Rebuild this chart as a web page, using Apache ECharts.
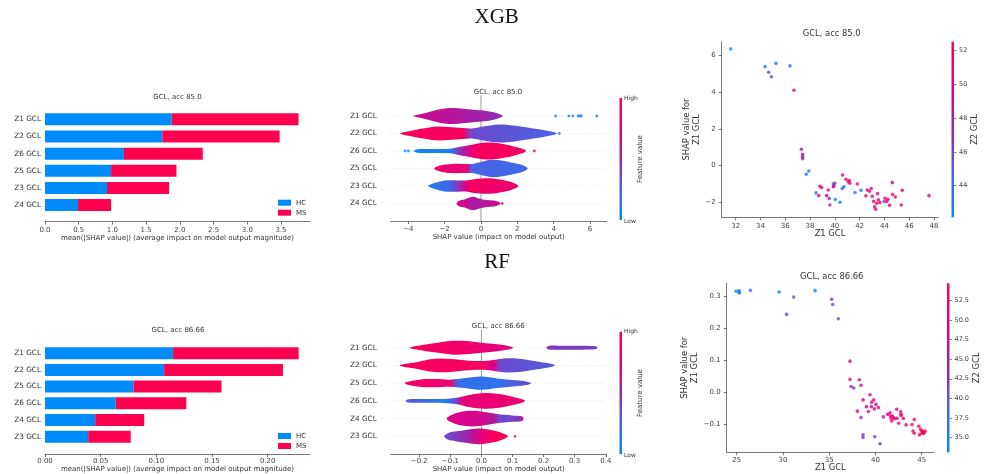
<!DOCTYPE html>
<html><head><meta charset="utf-8">
<script src="https://cdn.jsdelivr.net/npm/echarts@6/dist/echarts.min.js"></script>
<style>html,body{margin:0;padding:0;background:#fff}#c{width:984px;height:474px}</style>
</head><body><div id="c"></div>
<script>
// ================= DATA =================
// --- XGB: mean |SHAP| bar chart ---
const xgbBarFeatures = ['Z1 GCL', 'Z2 GCL', 'Z6 GCL', 'Z5 GCL', 'Z3 GCL', 'Z4 GCL'];
const xgbBarHC = [1.88, 1.74, 1.17, 0.98, 0.92, 0.49];
const xgbBarMS = [1.88, 1.74, 1.17, 0.97, 0.92, 0.49];
const xgbBarTicks = [0, 0.5, 1, 1.5, 2, 2.5, 3, 3.5];

// --- RF: mean |SHAP| bar chart ---
const rfBarFeatures = ['Z1 GCL', 'Z2 GCL', 'Z5 GCL', 'Z6 GCL', 'Z4 GCL', 'Z3 GCL'];
const rfBarHC = [0.115, 0.107, 0.0795, 0.0636, 0.0451, 0.0388];
const rfBarMS = [0.1128, 0.1067, 0.079, 0.0633, 0.044, 0.0382];
const rfBarTicks = [0, 0.05, 0.1, 0.15, 0.2];

// --- XGB violin summary: shape = [SHAP value, relative density], tone = [SHAP value, feature value 0..1] ---
const xgbViolinFeatures = ['Z1 GCL', 'Z2 GCL', 'Z6 GCL', 'Z5 GCL', 'Z3 GCL', 'Z4 GCL'];
const xgbViolinTicks = [-4, -2, 0, 2, 4, 6];
const xgbZ1Shape = [[-3.72,0],[-3.3,0.22],[-2.9,0.42],[-2.4,0.68],[-1.9,0.86],[-1.5,0.88],[-1.0,0.8],[-0.4,0.68],[0.2,0.58],[0.7,0.4],[1.0,0.22],[1.2,0]];
const xgbZ1Tone = [[-3.72,0.7],[-1.5,0.6],[0,0.52],[1.2,0.45]];
const xgbZ2Shape = [[-4.46,0],[-3.9,0.28],[-3.2,0.55],[-2.5,0.75],[-1.8,0.72],[-1.0,0.6],[-0.5,0.55],[0.2,0.8],[1.0,1.0],[1.8,0.88],[2.7,0.6],[3.5,0.35],[4.17,0]];
const xgbZ2Tone = [[-4.46,0.95],[-1.0,0.94],[-0.5,0.35],[4.17,0.25]];
const xgbZ6Shape = [[-3.69,0],[-3.5,0.2],[-2.5,0.22],[-1.7,0.25],[-1.3,0.4],[-0.6,0.65],[0.1,0.9],[0.7,0.92],[1.4,0.7],[2.0,0.4],[2.48,0]];
const xgbZ6Tone = [[-3.69,0.05],[-1.7,0.08],[-1.2,0.45],[-0.5,0.82],[0,0.95],[2.48,0.92]];
const xgbZ5Shape = [[-2.57,0],[-2.2,0.35],[-1.6,0.5],[-1.0,0.5],[-0.5,0.5],[0.0,0.72],[0.6,0.95],[1.2,0.85],[1.8,0.6],[2.3,0.35],[2.57,0]];
const xgbZ5Tone = [[-2.57,0.85],[-0.75,0.82],[-0.55,0.25],[2.57,0.2]];
const xgbZ3Shape = [[-2.9,0],[-2.5,0.35],[-2.0,0.6],[-1.5,0.62],[-0.9,0.6],[-0.2,0.8],[0.5,0.85],[1.2,0.65],[1.7,0.4],[2.05,0]];
const xgbZ3Tone = [[-2.9,0.12],[-1.8,0.18],[-1.3,0.4],[-0.9,0.7],[-0.6,0.92],[2.05,0.85]];
const xgbZ4Shape = [[-1.34,0],[-1.2,0.3],[-0.9,0.45],[-0.6,0.68],[-0.35,0.72],[-0.1,0.55],[0.3,0.38],[0.7,0.32],[0.95,0.2],[1.07,0]];
const xgbZ4Tone = [[-1.34,0.8],[-0.4,0.55],[0.5,0.62],[1.07,0.7]];
// outlier dots: [SHAP value, row, feature value]
const xgbViolinDots = [[4.11,0,0.12],[4.84,0,0.1],[5.05,0,0.12],[5.35,0,0.1],[5.45,0,0.15],[5.52,0,0.1],[6.37,0,0.12],[4.31,1,0.2],[-4.18,2,0.05],[-4.0,2,0.05],[2.94,2,0.95],[1.17,5,0.95]];

// --- RF violin summary ---
const rfViolinFeatures = ['Z1 GCL', 'Z2 GCL', 'Z5 GCL', 'Z6 GCL', 'Z4 GCL', 'Z3 GCL'];
const rfViolinTicks = [-0.2, -0.1, 0, 0.1, 0.2, 0.3, 0.4];
const rfZ1Shape = [[-0.231,0],[-0.19,0.3],[-0.14,0.55],[-0.09,0.75],[-0.05,0.72],[0.0,0.55],[0.05,0.38],[0.085,0.2],[0.102,0]];
const rfZ1Tone = [[-0.231,0.95],[-0.05,0.88],[0.102,0.75]];
const rfZ1bShape = [[0.209,0],[0.216,0.2],[0.25,0.22],[0.3,0.22],[0.35,0.2],[0.368,0.15],[0.373,0]];
const rfZ1bTone = [[0.209,0.42],[0.373,0.38]];
const rfZ2Shape = [[-0.263,0],[-0.21,0.35],[-0.15,0.72],[-0.1,0.7],[-0.04,0.52],[0.02,0.5],[0.07,0.75],[0.12,0.72],[0.18,0.42],[0.236,0]];
const rfZ2Tone = [[-0.263,0.95],[0.0,0.92],[0.04,0.75],[0.06,0.35],[0.236,0.28]];
const rfZ5Shape = [[-0.247,0],[-0.2,0.38],[-0.15,0.45],[-0.1,0.38],[-0.05,0.55],[0.0,0.72],[0.05,0.52],[0.1,0.35],[0.14,0.22],[0.16,0]];
const rfZ5Tone = [[-0.247,0.92],[-0.1,0.85],[-0.075,0.18],[0.05,0.15],[0.16,0.35]];
const rfZ6Shape = [[-0.244,0],[-0.235,0.18],[-0.18,0.2],[-0.12,0.22],[-0.08,0.35],[-0.04,0.65],[0.01,0.85],[0.05,0.78],[0.1,0.45],[0.14,0]];
const rfZ6Tone = [[-0.244,0.3],[-0.15,0.15],[-0.11,0.1],[-0.08,0.4],[-0.06,0.82],[0.14,0.85]];
const rfZ4Shape = [[-0.112,0],[-0.1,0.35],[-0.07,0.7],[-0.03,0.85],[0.01,0.72],[0.05,0.5],[0.1,0.35],[0.13,0.25],[0.135,0]];
const rfZ4Tone = [[-0.112,0.75],[0.0,0.7],[0.04,0.6],[0.06,0.35],[0.12,0.4],[0.135,0.8]];
const rfZ3Shape = [[-0.12,0],[-0.105,0.4],[-0.08,0.55],[-0.05,0.7],[-0.01,0.85],[0.03,0.7],[0.06,0.45],[0.085,0]];
const rfZ3Tone = [[-0.12,0.35],[-0.06,0.45],[-0.03,0.6],[0.0,0.8],[0.04,0.95],[0.085,0.95]];
const rfViolinDots = [[0.108,5,0.95]];

// --- XGB dependence plot: [Z1 GCL, SHAP value for Z1 GCL, Z2 GCL] ---
const xgbDependence = [
 [31.6,6.36,42.2],[34.37,5.40,43.3],[35.25,5.58,43.5],[34.66,5.09,45.8],[34.88,4.85,45.2],[36.38,5.44,44.0],
 [36.70,4.11,48.8],[37.30,0.89,47.6],[37.40,0.62,47.8],[37.40,0.49,47.4],[37.40,0.38,48.0],[37.90,-0.29,43.2],
 [37.70,-0.47,43.0],[38.48,-1.49,43.4],[38.70,-1.64,50.6],[38.80,-1.13,50.2],[38.94,-1.20,50.8],[39.34,-1.64,50.4],
 [39.47,-1.33,50.9],[39.55,-1.80,47.2],[39.60,-2.15,47.0],[39.88,-1.00,43.6],[39.93,-1.11,46.5],[39.88,-1.15,50.5],
 [39.99,-0.96,46.8],[40.04,-1.85,43.2],[40.42,-2.00,43.0],[40.63,-0.51,49.8],[40.60,-1.25,43.4],[40.74,-1.15,43.8],
 [40.90,-0.75,50.3],[41.09,-0.89,50.6],[41.17,-0.82,49.9],[41.22,-0.96,52.0],[41.63,-1.47,43.5],[41.81,-1.00,50.2],
 [42.11,-1.35,43.6],[42.51,-1.65,50.7],[42.62,-1.33,50.4],[42.78,-1.40,50.9],[42.94,-1.25,50.1],[43.02,-1.67,50.6],
 [43.13,-1.95,51.2],[43.21,-2.25,50.8],[43.29,-2.38,50.3],[43.37,-2.05,51.0],[43.45,-1.53,49.8],[43.51,-1.87,50.6],
 [43.64,-2.02,52.3],[43.97,-1.96,44.0],[44.05,-1.78,50.5],[44.18,-1.96,50.9],[44.29,-1.84,50.2],[44.42,-2.16,50.7],
 [44.64,-0.93,49.6],[44.66,-1.58,51.0],[44.88,-1.71,50.4],[45.36,-2.15,49.9],[45.44,-1.35,50.8],[47.60,-1.64,49.7]
];
const xgbDepXTicks = [32, 34, 36, 38, 40, 42, 44, 46, 48];
const xgbDepYTicks = [-2, 0, 2, 4, 6];
const xgbColorTicks = [44, 46, 48, 50, 52];
const xgbColorRange = [42.12, 52.53];

// --- RF dependence plot ---
const rfDependence = [
 [24.93,0.315,34.0],[25.25,0.3125,35.0],[25.25,0.317,34.5],[25.29,0.310,35.2],[26.48,0.318,35.5],[29.58,0.3125,35.3],
 [31.16,0.297,38.0],[30.40,0.243,41.5],[33.47,0.317,34.8],[35.27,0.290,44.5],[35.38,0.274,38.5],[35.99,0.229,38.2],
 [37.25,0.097,47.0],[37.25,0.040,47.5],[38.26,0.039,47.0],[37.36,0.018,43.0],[37.65,0.013,42.0],[38.44,0.022,46.5],
 [38.66,-0.024,48.0],[38.05,-0.059,47.5],[38.44,-0.079,42.5],[38.66,-0.133,42.0],[38.66,-0.141,41.8],[39.41,-0.008,48.5],
 [39.02,-0.045,48.8],[39.23,-0.060,48.3],[39.59,-0.031,49.0],[39.56,-0.045,48.6],[39.81,-0.024,49.2],[39.88,-0.052,48.9],
 [40.06,-0.038,49.5],[40.32,-0.048,49.3],[39.92,-0.139,42.5],[40.50,-0.161,42.0],[40.86,-0.077,48.0],[41.32,-0.069,49.8],
 [41.58,-0.064,50.5],[41.61,-0.074,50.2],[41.68,-0.081,51.0],[41.76,-0.090,50.6],[41.83,-0.074,50.9],[41.94,-0.079,51.2],
 [42.05,-0.083,51.5],[42.30,-0.053,50.8],[42.34,-0.081,51.6],[42.51,-0.097,51.3],[42.73,-0.061,51.0],[42.77,-0.069,51.4],
 [42.77,-0.073,51.8],[43.02,-0.082,51.5],[43.31,-0.102,52.0],[43.96,-0.101,52.3],[44.06,-0.121,52.5],[44.20,-0.085,51.8],
 [44.20,-0.128,52.8],[44.68,-0.106,53.0],[44.75,-0.133,53.3],[44.89,-0.116,53.5],[45.00,-0.121,53.8],[45.14,-0.123,54.0],
 [45.18,-0.129,54.3],[45.29,-0.126,54.5],[45.04,-0.128,54.0],[45.36,-0.121,54.6]
];
const rfDepXTicks = [25, 30, 35, 40, 45];
const rfDepYTicks = [-0.1, 0, 0.1, 0.2, 0.3];
const rfColorTicks = [35, 37.5, 40, 42.5, 45, 47.5, 50, 52.5];
const rfColorRange = [33.1, 54.7];

// ================= STYLE / HELPERS =================
const CMAP = ['#008bfb', '#4b63e3', '#9b24ad', '#e00086', '#ff0051'];
const FONT = 'DejaVu Sans';
const TXT = '#333';
const AX = '#555';
function hex(c) { return [parseInt(c.slice(1,3),16), parseInt(c.slice(3,5),16), parseInt(c.slice(5,7),16)]; }
function cmap(v) {
  v = Math.max(0, Math.min(1, v));
  const n = CMAP.length - 1, p = v * n, i = Math.min(n - 1, Math.floor(p)), f = p - i;
  const a = hex(CMAP[i]), b = hex(CMAP[i + 1]);
  return 'rgb(' + a.map((x, k) => Math.round(x + (b[k] - x) * f)).join(',') + ')';
}
function fmt(v, d) { return (v < -1e-9 ? '\u2212' : '') + Math.abs(v).toFixed(d); }

function xAxisValue(o) {
  return {
    type: 'value', gridIndex: o.grid, min: o.min, max: o.max, position: 'bottom', offset: o.offset || 0,
    axisLine: { show: true, onZero: false, lineStyle: { color: AX, width: 0.8 } },
    axisTick: { show: true, length: 3, customValues: o.ticks, lineStyle: { color: AX, width: 0.8 } },
    axisLabel: { customValues: o.ticks, formatter: v => fmt(v, o.dec), fontSize: o.fs || 7, color: '#444', fontFamily: FONT, margin: o.margin || 5 },
    splitLine: { show: false },
    name: o.name, nameLocation: 'middle', nameGap: o.nameGap,
    nameTextStyle: { fontSize: o.nfs || 7, color: TXT, fontFamily: FONT }
  };
}
function hiddenAxis(grid, min, max) { return { type: 'value', gridIndex: grid, min: min, max: max, show: false, axisLine: { onZero: false } }; }
function barYAxis(grid, data) {
  return { type: 'category', gridIndex: grid, data: data, inverse: true,
    axisLine: { show: false, onZero: false }, axisTick: { show: false },
    axisLabel: { fontSize: 7.3, color: TXT, margin: 4, fontFamily: FONT } };
}
function violinYAxis(grid, names, min) {
  return { type: 'value', gridIndex: grid, inverse: true, min: min, max: 6,
    axisLine: { show: false, onZero: false }, axisTick: { show: false }, splitLine: { show: false },
    axisLabel: { customValues: [0, 1, 2, 3, 4, 5], formatter: v => names[Math.round(v)] || '', margin: 14, fontSize: 7.3, color: TXT, fontFamily: FONT } };
}
function depYAxis(grid, min, max, ticks, dec, gap) {
  return { type: 'value', gridIndex: grid, min: min, max: max,
    axisLine: { show: true, onZero: false, lineStyle: { color: AX, width: 0.8 } },
    axisTick: { show: true, length: 3, customValues: ticks, lineStyle: { color: AX, width: 0.8 } },
    axisLabel: { customValues: ticks, formatter: v => fmt(v, dec), fontSize: 7, color: '#444', fontFamily: FONT, margin: 6 },
    splitLine: { show: false },
    name: 'SHAP value for\nZ1 GCL', nameLocation: 'middle', nameRotate: 90, nameGap: gap,
    nameTextStyle: { fontSize: 8.4, lineHeight: 10, color: TXT, fontFamily: FONT } };
}
function cbarYAxis(grid, range, ticks, dec, gap) {
  return { type: 'value', gridIndex: grid, min: range[0], max: range[1], position: 'right',
    axisLine: { show: false, onZero: false },
    axisTick: { show: true, length: 2.5, customValues: ticks, lineStyle: { color: AX, width: 0.7 } },
    axisLabel: { customValues: ticks, formatter: v => v.toFixed(dec), fontSize: 6.5, color: '#444', fontFamily: FONT, margin: 5 },
    splitLine: { show: false },
    name: 'Z2 GCL', nameLocation: 'middle', nameRotate: 90, nameGap: gap,
    nameTextStyle: { fontSize: 8.4, color: TXT, fontFamily: FONT } };
}

function makePieces(list) { return list.map(p => ({ row: p[0], shape: p[1], tone: p[2] })); }
const xgbPieces = makePieces([[0, xgbZ1Shape, xgbZ1Tone], [1, xgbZ2Shape, xgbZ2Tone], [2, xgbZ6Shape, xgbZ6Tone],
  [3, xgbZ5Shape, xgbZ5Tone], [4, xgbZ3Shape, xgbZ3Tone], [5, xgbZ4Shape, xgbZ4Tone]]);
const rfPieces = makePieces([[0, rfZ1Shape, rfZ1Tone], [0, rfZ1bShape, rfZ1bTone], [1, rfZ2Shape, rfZ2Tone],
  [2, rfZ5Shape, rfZ5Tone], [3, rfZ6Shape, rfZ6Tone], [4, rfZ4Shape, rfZ4Tone], [5, rfZ3Shape, rfZ3Tone]]);

function violinRender(pieces) {
  return function (params, api) {
    const pc = pieces[params.dataIndex];
    const row = pc.row;
    const c0 = api.coord([0, row]);
    const unit = Math.abs(api.coord([0, row + 1])[1] - c0[1]);
    const k = 0.52 * unit;
    const top = [], bot = [];
    pc.shape.forEach(s => {
      const p = api.coord([s[0], row]);
      top.push([p[0], p[1] - s[1] * k]);
      bot.push([p[0], p[1] + s[1] * k]);
    });
    const pts = top.concat(bot.slice(1, -1).reverse());
    const xa = api.coord([pc.shape[0][0], row])[0];
    const xb = api.coord([pc.shape[pc.shape.length - 1][0], row])[0];
    const stops = pc.tone.map(t => {
      const px = api.coord([t[0], row])[0];
      return { offset: Math.min(1, Math.max(0, (px - xa) / (xb - xa))), color: cmap(t[1]) };
    });
    return { type: 'polygon', shape: { points: pts, smooth: 0.35 },
      style: { fill: { type: 'linear', x: xa, y: 0, x2: xb, y2: 0, global: true, colorStops: stops } } };
  };
}
function guideRender(params, api) {
  const cs = params.coordSys;
  const y = api.coord([0, api.value(1)])[1];
  const ch = [{ type: 'line', shape: { x1: cs.x, y1: y, x2: cs.x + cs.width, y2: y },
    style: { stroke: '#d4d4d4', lineWidth: 0.6, lineDash: [1, 2] } }];
  if (params.dataIndex === 0) {
    const x0 = api.coord([0, 0])[0];
    ch.push({ type: 'line', shape: { x1: x0, y1: cs.y, x2: x0, y2: cs.y + cs.height }, style: { stroke: '#999', lineWidth: 1 } });
  }
  return { type: 'group', children: ch };
}
function cbarRender(params, api) {
  const p1 = api.coord([0, api.value(2)]);
  const p2 = api.coord([1, api.value(1)]);
  return { type: 'rect', shape: { x: p1[0], y: p1[1], width: p2[0] - p1[0], height: p2[1] - p1[1] },
    style: { fill: { type: 'linear', x: 0, y: 1, x2: 0, y2: 0,
      colorStops: CMAP.map((c, i) => ({ offset: i / (CMAP.length - 1), color: c })) } } };
}
const rows6 = [0, 1, 2, 3, 4, 5].map(r => [0, r]);

function text(x, y, s, size, extra) {
  return Object.assign({ type: 'text', x: x, y: y, silent: true,
    style: { text: s, fontSize: size, fontFamily: FONT, fill: TXT, align: 'center', verticalAlign: 'middle' } }, extra || {});
}
function sideText(x, y, s) {
  return { type: 'text', x: x, y: y, silent: true,
    style: { text: s, fontSize: 6, fontFamily: FONT, fill: TXT, align: 'left', verticalAlign: 'middle' } };
}
function bigTitle(x, y, s) {
  return { type: 'text', x: x, y: y, silent: true,
    style: { text: s, fontSize: 21, fontFamily: 'Liberation Serif', fill: '#111', align: 'center', verticalAlign: 'middle' } };
}

// ================= OPTION =================
const option = {
  backgroundColor: '#fff',
  animation: false,
  grid: [
    { left: 45, top: 110.8, width: 265, height: 102.8 },      // 0 xgb bar
    { left: 390.7, top: 95, width: 216, height: 126 },        // 1 xgb violin
    { left: 619.5, top: 98, width: 2.5, height: 122 },        // 2 xgb violin colorbar
    { left: 721.7, top: 41.7, width: 216.6, height: 175.6 },  // 3 xgb dependence
    { left: 951.5, top: 41.7, width: 2.5, height: 175.6 },    // 4 xgb colorbar
    { left: 45, top: 344.8, width: 265, height: 102 },        // 5 rf bar
    { left: 390.7, top: 330, width: 216, height: 125 },       // 6 rf violin
    { left: 619.5, top: 331.7, width: 2.5, height: 122.3 },   // 7 rf violin colorbar
    { left: 726.7, top: 283.3, width: 207.3, height: 169 },   // 8 rf dependence
    { left: 947, top: 283.3, width: 2.5, height: 169 }        // 9 rf colorbar
  ],
  xAxis: [
    xAxisValue({ grid: 0, min: 0, max: 3.93, ticks: xgbBarTicks, dec: 1, offset: 8, margin: 5, nameGap: 13,
      name: 'mean(|SHAP value|) (average impact on model output magnitude)' }),
    xAxisValue({ grid: 1, min: -4.97, max: 6.92, ticks: xgbViolinTicks, dec: 0, margin: 5, nameGap: 13,
      name: 'SHAP value (impact on model output)' }),
    hiddenAxis(2, 0, 1),
    xAxisValue({ grid: 3, min: 30.87, max: 48.35, ticks: xgbDepXTicks, dec: 0, margin: 5, nameGap: 13, nfs: 8.4, name: 'Z1 GCL' }),
    hiddenAxis(4, 0, 1),
    xAxisValue({ grid: 5, min: 0, max: 0.238, ticks: rfBarTicks, dec: 2, offset: 8.9, margin: 4, nameGap: 12,
      name: 'mean(|SHAP value|) (average impact on model output magnitude)' }),
    xAxisValue({ grid: 6, min: -0.292, max: 0.403, ticks: rfViolinTicks, dec: 1, margin: 4, nameGap: 11,
      name: 'SHAP value (impact on model output)' }),
    hiddenAxis(7, 0, 1),
    xAxisValue({ grid: 8, min: 23.92, max: 46.33, ticks: rfDepXTicks, dec: 0, margin: 4, nameGap: 11, nfs: 8.4, name: 'Z1 GCL' }),
    hiddenAxis(9, 0, 1)
  ],
  yAxis: [
    barYAxis(0, xgbBarFeatures),
    violinYAxis(1, xgbViolinFeatures, -1.2),
    hiddenAxis(2, 0, 1),
    depYAxis(3, -2.82, 6.76, xgbDepYTicks, 0, 18),
    cbarYAxis(4, xgbColorRange, xgbColorTicks, 0, 17),
    barYAxis(5, rfBarFeatures),
    violinYAxis(6, rfViolinFeatures, -1.0),
    hiddenAxis(7, 0, 1),
    depYAxis(8, -0.1875, 0.34, rfDepYTicks, 1, 23),
    cbarYAxis(9, rfColorRange, rfColorTicks, 1, 23)
  ],
  visualMap: [
    { type: 'continuous', show: false, seriesIndex: 6, dimension: 2, min: xgbColorRange[0], max: xgbColorRange[1], inRange: { color: CMAP } },
    { type: 'continuous', show: false, seriesIndex: 14, dimension: 2, min: rfColorRange[0], max: rfColorRange[1], inRange: { color: CMAP } }
  ],
  legend: [
    { data: ['HC', 'MS'], orient: 'vertical', left: 278, top: 198.7, itemWidth: 13, itemHeight: 6, itemGap: 2, padding: 0,
      selectedMode: false, icon: 'rect', textStyle: { fontSize: 7, lineHeight: 8, color: TXT, fontFamily: FONT } },
    { data: ['HC', 'MS'], orient: 'vertical', left: 278, top: 432, itemWidth: 13, itemHeight: 6, itemGap: 2, padding: 0,
      selectedMode: false, icon: 'rect', textStyle: { fontSize: 7, lineHeight: 8, color: TXT, fontFamily: FONT } }
  ],
  series: [
    // 0,1 xgb bars
    { type: 'bar', name: 'HC', xAxisIndex: 0, yAxisIndex: 0, stack: 'xgb', barWidth: 12, data: xgbBarHC, itemStyle: { color: '#008bfb' } },
    { type: 'bar', name: 'MS', xAxisIndex: 0, yAxisIndex: 0, stack: 'xgb', barWidth: 12, data: xgbBarMS, itemStyle: { color: '#ff0051' } },
    // 2 guides, 3 violins, 4 dots
    { type: 'custom', xAxisIndex: 1, yAxisIndex: 1, z: 1, silent: true, renderItem: guideRender, data: rows6, clip: false },
    { type: 'custom', xAxisIndex: 1, yAxisIndex: 1, z: 2, silent: true, renderItem: violinRender(xgbPieces),
      data: xgbPieces.map(p => [p.shape[0][0], p.row]), clip: false },
    { type: 'scatter', xAxisIndex: 1, yAxisIndex: 1, z: 3, symbolSize: 2.8, silent: true, data: xgbViolinDots,
      itemStyle: { color: p => cmap(p.value[2]) } },
    // 5 colorbar
    { type: 'custom', xAxisIndex: 2, yAxisIndex: 2, silent: true, renderItem: cbarRender, data: [[0, 0, 1]], encode: { x: 0, y: [1, 2] } },
    // 6 dependence
    { type: 'scatter', xAxisIndex: 3, yAxisIndex: 3, symbolSize: 3.6, silent: true, data: xgbDependence },
    // 7 colorbar
    { type: 'custom', xAxisIndex: 4, yAxisIndex: 4, silent: true, renderItem: cbarRender, data: [[0, xgbColorRange[0], xgbColorRange[1]]], encode: { x: 0, y: [1, 2] } },
    // 8,9 rf bars
    { type: 'bar', name: 'HC', xAxisIndex: 5, yAxisIndex: 5, stack: 'rf', barWidth: 12, data: rfBarHC, itemStyle: { color: '#008bfb' } },
    { type: 'bar', name: 'MS', xAxisIndex: 5, yAxisIndex: 5, stack: 'rf', barWidth: 12, data: rfBarMS, itemStyle: { color: '#ff0051' } },
    // 10 guides, 11 violins, 12 dots
    { type: 'custom', xAxisIndex: 6, yAxisIndex: 6, z: 1, silent: true, renderItem: guideRender, data: rows6, clip: false },
    { type: 'custom', xAxisIndex: 6, yAxisIndex: 6, z: 2, silent: true, renderItem: violinRender(rfPieces),
      data: rfPieces.map(p => [p.shape[0][0], p.row]), clip: false },
    { type: 'scatter', xAxisIndex: 6, yAxisIndex: 6, z: 3, symbolSize: 2.8, silent: true, data: rfViolinDots,
      itemStyle: { color: p => cmap(p.value[2]) } },
    // 13 colorbar
    { type: 'custom', xAxisIndex: 7, yAxisIndex: 7, silent: true, renderItem: cbarRender, data: [[0, 0, 1]], encode: { x: 0, y: [1, 2] } },
    // 14 dependence
    { type: 'scatter', xAxisIndex: 8, yAxisIndex: 8, symbolSize: 3.6, silent: true, data: rfDependence },
    // 15 colorbar
    { type: 'custom', xAxisIndex: 9, yAxisIndex: 9, silent: true, renderItem: cbarRender, data: [[0, rfColorRange[0], rfColorRange[1]]], encode: { x: 0, y: [1, 2] } }
  ],
  graphic: [
    bigTitle(496.7, 17, 'XGB'),
    bigTitle(497, 262, 'RF'),
    text(177.5, 97, 'GCL, acc 85.0', 7),
    text(498, 91.7, 'GCL, acc 85.0', 7),
    text(831.7, 34, 'GCL, acc 85.0', 8.4),
    text(178, 330, 'GCL, acc 86.66', 7),
    text(498.3, 325.7, 'GCL, acc 86.66', 7),
    text(831.7, 276.7, 'GCL, acc 86.66', 8.4),
    sideText(624, 98.3, 'High'),
    sideText(624, 221, 'Low'),
    text(640, 159, 'Feature value', 7, { rotation: Math.PI / 2 }),
    sideText(624, 331.7, 'High'),
    sideText(624, 455, 'Low'),
    text(640, 393, 'Feature value', 7, { rotation: Math.PI / 2 })
  ]
};

const chart = echarts.init(document.getElementById('c'), null, { renderer: 'canvas', width: 984, height: 474 });
chart.setOption(option);
</script>
</body></html>
